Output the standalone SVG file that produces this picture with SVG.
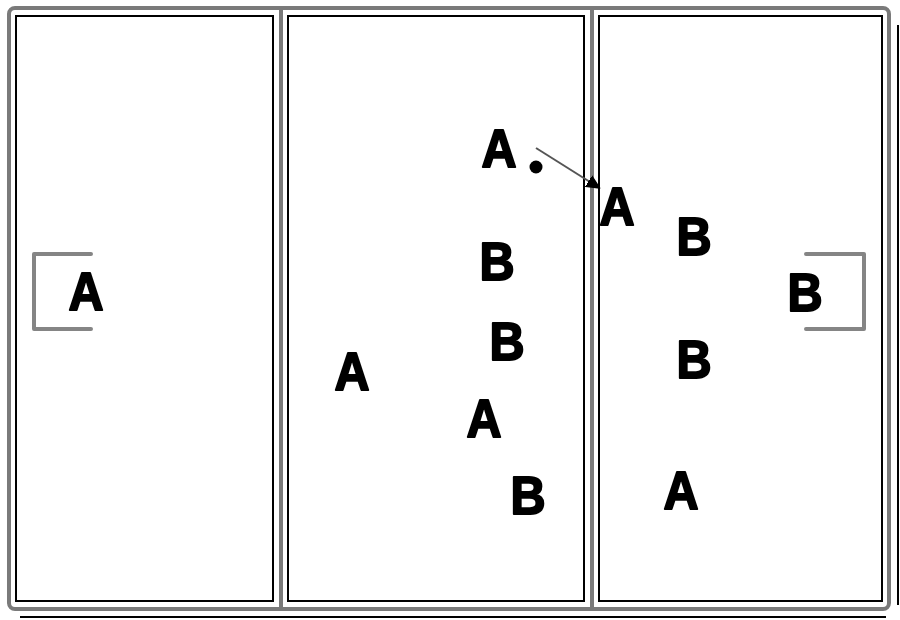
<svg xmlns="http://www.w3.org/2000/svg" width="900" height="620" viewBox="0 0 900 620">
<style>
.frame{fill:none;stroke:#7a7a7a;stroke-width:4}
.panel{fill:none;stroke:#000;stroke-width:2}
.edge{fill:none;stroke:#000;stroke-width:2}
.brk{fill:none;stroke:#858585;stroke-width:4;stroke-linecap:round;stroke-linejoin:round}
.lbl{font-family:"Liberation Sans","DejaVu Sans",Arial,sans-serif;font-weight:bold;font-size:54px;fill:#000;stroke:#000;stroke-width:2;stroke-linejoin:round;text-anchor:middle}
</style>
<defs>
<marker id="ah" markerWidth="14" markerHeight="14" refX="11" refY="7" orient="auto" markerUnits="userSpaceOnUse">
<path d="M0,1 L13,7 L0,13 Z" fill="#000" stroke="#000" stroke-width="1.5" stroke-linejoin="round"/>
</marker>
</defs>
<rect width="900" height="620" fill="#fff"/>
<g id="frame">
<rect class="frame" x="9" y="8" width="880" height="601" rx="6"/>
<line class="frame" x1="281" y1="8" x2="281" y2="609"/>
<line class="frame" x1="592" y1="8" x2="592" y2="609"/>
<line class="edge" x1="20" y1="617" x2="886" y2="617"/>
<line class="edge" x1="898" y1="25" x2="898" y2="605"/>
</g>
<g id="panel-left"><rect class="panel" x="16" y="16" width="257" height="585"/></g>
<g id="panel-middle"><rect class="panel" x="288" y="16" width="296" height="585"/></g>
<g id="panel-right"><rect class="panel" x="599" y="16" width="283" height="585"/></g>
<g id="bracket-left"><path class="brk" d="M91,254 H34 V329 H91"/></g>
<g id="bracket-right"><path class="brk" d="M806,254 H864 V329 H806"/></g>
<g id="labels">
<g transform="translate(86,310) scale(0.9,1)"><text class="lbl">A</text></g>
<g transform="translate(499,167) scale(0.9,1)"><text class="lbl">A</text></g>
<g transform="translate(617,225) scale(0.9,1)"><text class="lbl">A</text></g>
<g transform="translate(694,255) scale(0.9,1)"><text class="lbl">B</text></g>
<g transform="translate(497,280) scale(0.9,1)"><text class="lbl">B</text></g>
<g transform="translate(805,311) scale(0.9,1)"><text class="lbl">B</text></g>
<g transform="translate(507,360) scale(0.9,1)"><text class="lbl">B</text></g>
<g transform="translate(352,390) scale(0.9,1)"><text class="lbl">A</text></g>
<g transform="translate(694,378) scale(0.9,1)"><text class="lbl">B</text></g>
<g transform="translate(484,437) scale(0.9,1)"><text class="lbl">A</text></g>
<g transform="translate(528,514) scale(0.9,1)"><text class="lbl">B</text></g>
<g transform="translate(681,509) scale(0.9,1)"><text class="lbl">A</text></g>
</g>
<g id="ball"><circle cx="536" cy="167" r="6.5" fill="#000"/></g>
<g id="connectors">
<line x1="536" y1="148" x2="598" y2="187" stroke="#555" stroke-width="2" marker-end="url(#ah)"/>
</g>
</svg>
